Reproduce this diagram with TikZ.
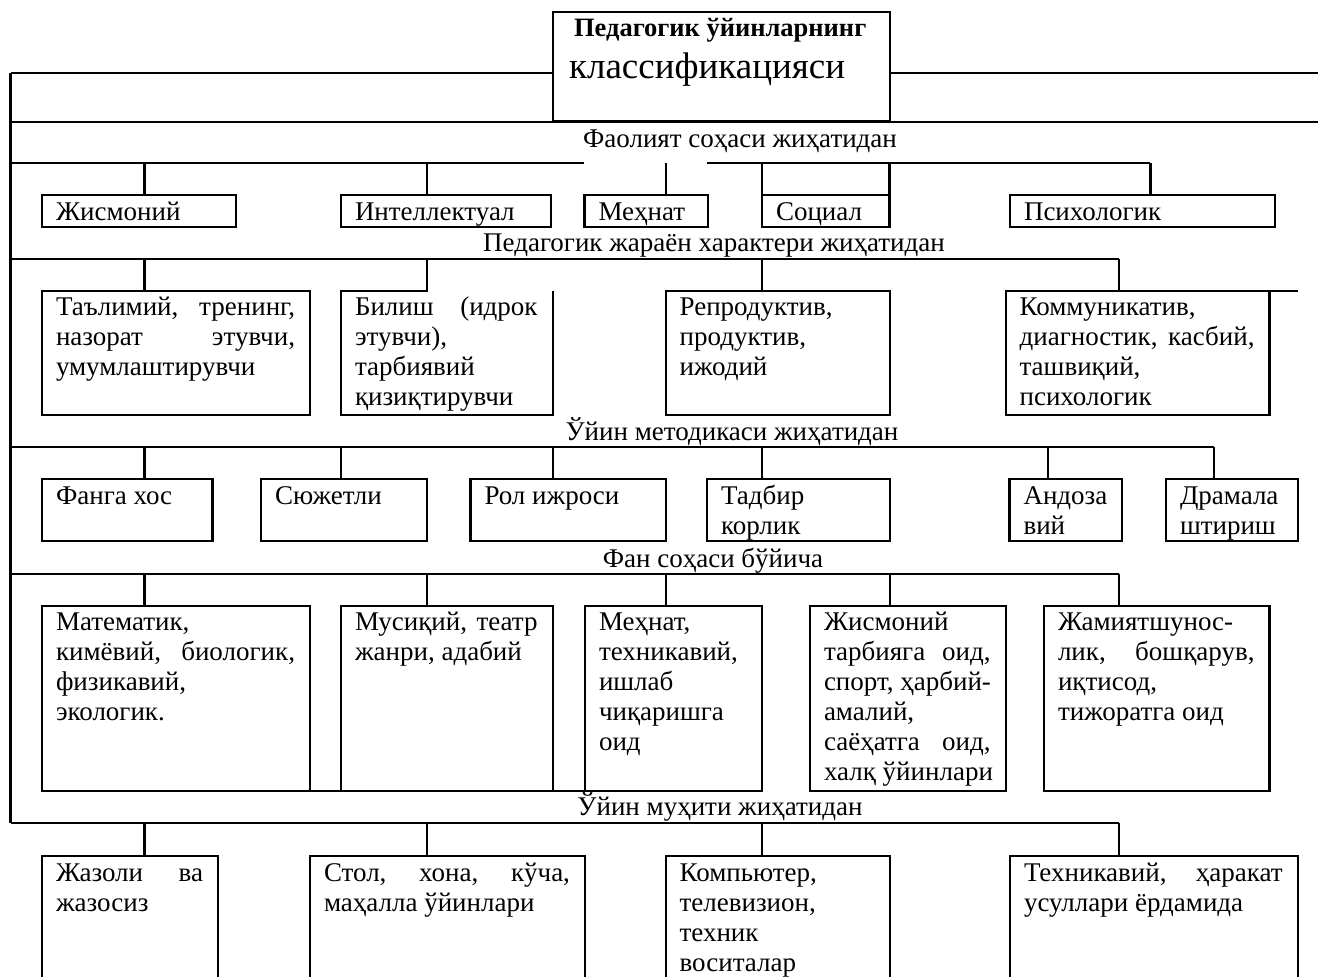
\documentclass[tikz,border=0pt]{standalone}
\usepackage{fontspec}
\setmainfont{Liberation Serif}
\newcommand\bodyfont{\fontsize{27}{30}\selectfont}
\hyphenpenalty=10000
\exhyphenpenalty=10000
\newcommand\J[1]{\makebox[\tw pt][s]{#1}}
% [style] name, x1, y1, x2, y2, text
\newcommand\mkbox[7][boxst]{%
  \pgfmathsetmacro\bw{#5-#3}\pgfmathsetmacro\bh{#6-#4}\pgfmathsetmacro\tw{#5-#3-29}%
  \node[#1, minimum width=\bw pt, minimum height=\bh pt] (#2) at (#3,#4) {};
  \node[txtst] (#2t) at ([xshift=14pt,yshift=-4pt]#2.north west) {\strut #7};
}
\begin{document}
\begin{tikzpicture}[x=1pt,y=-1pt,line width=2.2pt,
  boxst/.style={draw, rectangle, anchor=north west, inner sep=0pt, outer sep=0pt},
  openbox/.style={rectangle, anchor=north west, inner sep=0pt, outer sep=0pt},
  txtst/.style={anchor=north west, inner sep=0pt, outer sep=0pt, align=left, font=\bodyfont},
  lbl/.style={anchor=base, inner sep=0pt, outer sep=0pt, font=\bodyfont}]
\useasboundingbox (0,0) rectangle (1318,977);
\clip (0,0) rectangle (1318,977);

% title
\node[boxst, minimum width=337pt, minimum height=108.7pt] (title) at (553,12.3) {};
\node[anchor=base west, inner sep=0pt, font=\fontsize{26.5}{30}\selectfont\bfseries] (t1) at (573,36.7) {Педагогик ўйинларнинг};
\node[anchor=base west, inner sep=0pt, font=\fontsize{37}{44}\selectfont] (t2) at (568,78) {классификацияси};

% frame
\coordinate (L0) at (10.5,73.3);
\coordinate (R0) at (1318,73.3);
\coordinate (Lend) at (10.5,823.3);
\draw (L0) -- (title.west |- L0);
\draw (title.east |- R0) -- (R0);
\draw (L0) -- (Lend);

% bus lines
\coordinate (B1L) at (10.5,121.7); \coordinate (B1R) at (1318,121.7);
\draw (B1L) -- (B1R);
\coordinate (B2L) at (10.5,163.3); \coordinate (B2a) at (584.3,163.3);
\coordinate (B2b) at (706.7,163.3); \coordinate (B2R) at (1150.4,163.3);
\draw (B2L) -- (B2a);
\draw (B2b) -- (B2R);
\coordinate (B3L) at (10.5,259); \coordinate (B3R) at (1119,259);
\draw (B3L) -- (B3R);
\coordinate (B4L) at (10.5,447.3); \coordinate (B4R) at (1213.6,447.3);
\draw (B4L) -- (B4R);
\coordinate (B5L) at (10.5,574); \coordinate (B5R) at (1119,574);
\draw (B5L) -- (B5R);
\coordinate (B6R) at (1119,823.3);
\draw (Lend) -- (B6R);

% labels
\node[lbl] (l1) at (740,147) {Фаолият соҳаси жиҳатидан};
\node[lbl] (l2) at (714,251.5) {Педагогик жараён характери жиҳатидан};
\node[lbl] (l3) at (732,440) {Ўйин методикаси жиҳатидан};
\node[lbl] (l4) at (713,567) {Фан соҳаси бўйича};
\node[lbl] (l5) at (720,815) {Ўйин муҳити жиҳатидан};

% row 1
\mkbox{jis}{42}{195}{235.7}{227.3}{Жисмоний}
\mkbox{int}{341}{195}{551}{227.3}{Интеллектуал}
\mkbox{meh}{584.5}{195}{707.7}{227.3}{Меҳнат}
\mkbox{soc}{762}{195}{889.5}{227.3}{Социал}
\mkbox{psy}{1010}{195}{1274.6}{227.3}{Психологик}

% row 2
\mkbox{tal}{42}{290.7}{310}{415}{\J{Таълимий, тренинг,}\\\J{назорат этувчи,}\\умумлаштирувчи}
\mkbox[openbox]{bil}{341}{290.7}{552.6}{415}{\J{Билиш (идрок}\\этувчи),\\тарбиявий\\қизиқтирувчи}
\mkbox{rep}{665.6}{290.7}{890.3}{415}{Репродуктив,\\продуктив,\\ижодий}
\mkbox{kom}{1005.6}{290.7}{1269.5}{415}{Коммуникатив,\\\J{диагностик, касбий,}\\ташвиқий,\\психологик}
\coordinate (komx) at (1297.7,290.7);
\draw (kom.north east) -- (komx);

% row 3
\mkbox{fan}{42}{479.3}{212.5}{541}{Фанга хос}
\mkbox{syu}{261}{479.3}{427}{541}{Сюжетли}
\mkbox{rol}{470.5}{479.3}{665.6}{541}{Рол ижроси}
\mkbox{tad}{707}{479.3}{890.3}{541}{Тадбир\\корлик}
\mkbox{and}{1009.5}{479.3}{1122}{541}{Андоза\\вий}
\mkbox{dra}{1166}{479.3}{1298}{541}{Драмала\\штириш}

% row 4
\mkbox{mat}{42}{605.7}{310}{791}{Математик,\\\J{кимёвий, биологик,}\\физикавий,\\экологик.}
\mkbox{mus}{341}{605.7}{552.6}{791}{\J{Мусиқий, театр}\\жанри, адабий}
\mkbox{mhn}{585}{605.7}{762}{791}{Меҳнат,\\техникавий,\\ишлаб\\чиқаришга\\оид}
\mkbox{jsm}{810}{605.7}{1005.6}{791}{Жисмоний\\\J{тарбияга оид,}\\спорт, ҳарбий-\\амалий,\\\J{саёҳатга оид,}\\халқ ўйинлари}
\mkbox{jam}{1044}{605.7}{1269.5}{791}{Жамиятшунос-\\\J{лик, бошқарув,}\\иқтисод,\\тижоратга оид}
\draw (mat.south east) -- (mus.south west);
\draw (mus.south east) -- (mhn.south west);

% row 5
\mkbox{jaz}{42}{856}{218}{995}{\J{Жазоли ва}\\жазосиз}
\mkbox{sto}{310}{856}{585}{995}{\J{Стол, хона, кўча,}\\маҳалла ўйинлари}
\mkbox{kmp}{665.6}{856}{890.3}{995}{Компьютер,\\телевизион,\\техник\\воситалар}
\mkbox{tex}{1010}{856}{1297.7}{995}{\J{Техникавий, ҳаракат}\\усуллари ёрдамида}

% connectors row 1
\coordinate (c11) at (144.4,163.3); \draw (c11) -- (c11 |- jis.north);
\coordinate (c12) at (427.2,163.3); \draw (c12) -- (c12 |- int.north);
\coordinate (c13) at (666,163.3);   \draw (c13) -- (c13 |- meh.north);
\coordinate (c14) at (762,163.3);   \draw (c14) -- (soc.north west);
\coordinate (c15) at (889.5,163.3); \draw (c15) -- (soc.north east);
\coordinate (c16) at (1150.4,163.3);\draw (c16) -- (c16 |- psy.north);

% connectors row 2
\coordinate (c21) at (144.4,259); \draw (c21) -- (c21 |- tal.north);
\coordinate (c22) at (427.2,259); \draw (c22) -- (c22 |- bil.north) -- (bil.north west) -- (bil.south west) -- (bil.south east) -- (bil.north east);
\coordinate (c23) at (762,259);   \draw (c23) -- (c23 |- rep.north);
\coordinate (c24) at (1119,259);  \draw (c24) -- (c24 |- kom.north);

% connectors row 3
\coordinate (c31) at (144.4,447.3); \draw (c31) -- (c31 |- fan.north);
\coordinate (c32) at (341,447.3);   \draw (c32) -- (c32 |- syu.north);
\coordinate (c33) at (552.6,447.3); \draw (c33) -- (c33 |- rol.north);
\coordinate (c34) at (762,447.3);   \draw (c34) -- (c34 |- tad.north);
\coordinate (c35) at (1048.3,447.3);\draw (c35) -- (c35 |- and.north);
\coordinate (c36) at (1213.6,447.3);\draw (c36) -- (c36 |- dra.north);

% connectors row 4
\coordinate (c41) at (144.4,574); \draw (c41) -- (c41 |- mat.north);
\coordinate (c42) at (427.2,574); \draw (c42) -- (c42 |- mus.north);
\coordinate (c43) at (665.6,574); \draw (c43) -- (c43 |- mhn.north);
\coordinate (c44) at (890.3,574); \draw (c44) -- (c44 |- jsm.north);
\coordinate (c45) at (1119,574);  \draw (c45) -- (c45 |- jam.north);

% connectors row 5
\coordinate (c51) at (144.4,823.3); \draw (c51) -- (c51 |- jaz.north);
\coordinate (c52) at (427.2,823.3); \draw (c52) -- (c52 |- sto.north);
\coordinate (c53) at (762,823.3);   \draw (c53) -- (c53 |- kmp.north);
\coordinate (c54) at (1119,823.3);  \draw (c54) -- (c54 |- tex.north);
\end{tikzpicture}
\end{document}
